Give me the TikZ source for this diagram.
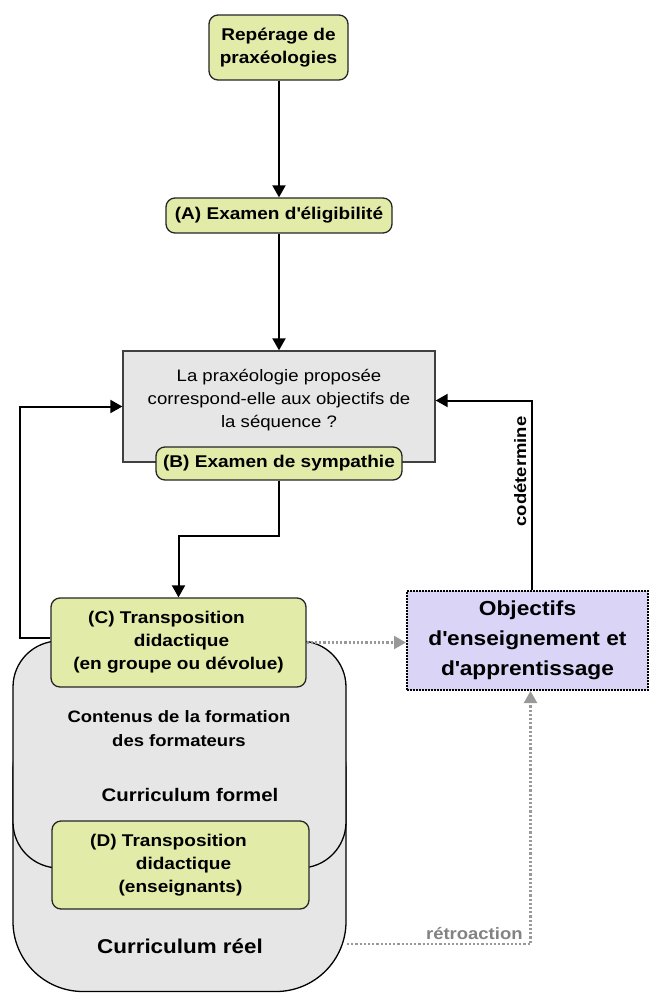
\documentclass[tikz,border=0pt]{standalone}
\usepackage{fontspec}
\setmainfont{Liberation Sans}[FakeStretch=1.12]
\usetikzlibrary{arrows.meta,calc}
\definecolor{ygreen}{HTML}{E3EBA8}
\definecolor{lgray}{HTML}{E6E6E6}
\definecolor{lav}{HTML}{DAD4F6}
\definecolor{dgray}{HTML}{999999}
\newcommand{\apo}{\textquotesingle}
\tikzset{
  ybox/.style={draw=black!85, fill=ygreen, line width=1.3pt, rounded corners=9pt, align=center, font=\bfseries\fontsize{17}{23}\selectfont, inner sep=0pt},
  curv/.style={draw=black, fill=lgray, line width=1.3pt, inner sep=0pt},
  blk/.style={line width=2pt, -{Triangle[length=12pt,width=13pt]}},
  gdot/.style={line width=2.2pt, dgray, dotted, -{Triangle[length=12pt,width=13pt]}},
}
\begin{document}
\begin{tikzpicture}[x=1pt,y=-1pt]
\useasboundingbox[fill=white] (0,0) rectangle (649,993);
% curriculum shapes
\node[curv, rounded corners=70pt, minimum width=333pt, minimum height=291pt] (reel) at (179.5,846) {};
\node[curv, rounded corners=46pt, minimum width=333pt, minimum height=227pt] (formel) at (179.5,754.5) {};
\node[font=\bfseries\fontsize{16.5}{24}\selectfont, align=center] (contenus) at (179,729) {Contenus de la formation\\des formateurs};
\node[font=\bfseries\fontsize{18.2}{22}\selectfont] (cformel) at (190,795) {Curriculum formel};
\node[font=\bfseries\fontsize{20}{22}\selectfont] (creel) at (180,946) {Curriculum réel};
% boxes
\node[ybox, minimum width=139pt, minimum height=65pt] (rep) at (278.5,47.5) {Repérage de\\praxéologies};
\node[ybox, minimum width=226pt, minimum height=35pt] (A) at (279,215.5) {(A) Examen d\apo éligibilité};
\node[draw=black!75, fill=lgray, line width=1.3pt, minimum width=312pt, minimum height=111pt, inner sep=0pt] (q) at (279,406.5) {};
\node[align=center, font=\fontsize{16.6}{23}\selectfont] (qtext) at (279,400) {La praxéologie proposée\\correspond-elle aux objectifs de\\la séquence ?};
\node[ybox, minimum width=246pt, minimum height=33pt] (B) at (279,463.5) {(B) Examen de sympathie};
\node[ybox, minimum width=255pt, minimum height=89pt] (C) at (178.5,642.5) {(C) Transposition\hspace*{24pt}\\\hspace*{6pt}didactique\\(en groupe ou dévolue)};
\node[ybox, minimum width=257pt, minimum height=88pt] (D) at (180.5,865) {(D) Transposition\hspace*{24pt}\\\hspace*{6pt}didactique\\(enseignants)};
\node[draw=black, densely dotted, fill=lav, line width=2pt, minimum width=241pt, minimum height=99pt, inner sep=0pt, align=center, font=\bfseries\fontsize{20.3}{30}\selectfont] (obj) at (527.5,640.5) {Objectifs\\d\apo enseignement et\\d\apo apprentissage};
% connectors
\draw[blk] (rep.south -| qtext.center) -- (A.north -| qtext.center);
\draw[blk] (A.south -| qtext.center) -- (q.north -| qtext.center);
\draw[blk] (qtext.center |- B.south) -- ++(0,55) -| (C.north);
\draw[blk] ($(C.west)+(0,-5)$) -- ++(-30,0) |- (q.west);
\coordinate (objtop) at ($(obj.north)+(4,0)$);
\draw[blk] (objtop) |- ($(q.east)+(0,-6)$) node[pos=0.313, left=1pt, rotate=90, anchor=south, font=\bfseries\fontsize{16.5}{18}\selectfont, black] {codétermine};
\draw[gdot] (C.east) -- (C.east -| obj.west);
\coordinate (reelout) at (347,944);
\coordinate (objbot) at ($(obj.south)+(3,0)$);
\draw[gdot] (reelout) -| (objbot) node[pos=0.347, above, font=\bfseries\fontsize{16.5}{18}\selectfont, dgray!85!black] {rétroaction};
\end{tikzpicture}
\end{document}
